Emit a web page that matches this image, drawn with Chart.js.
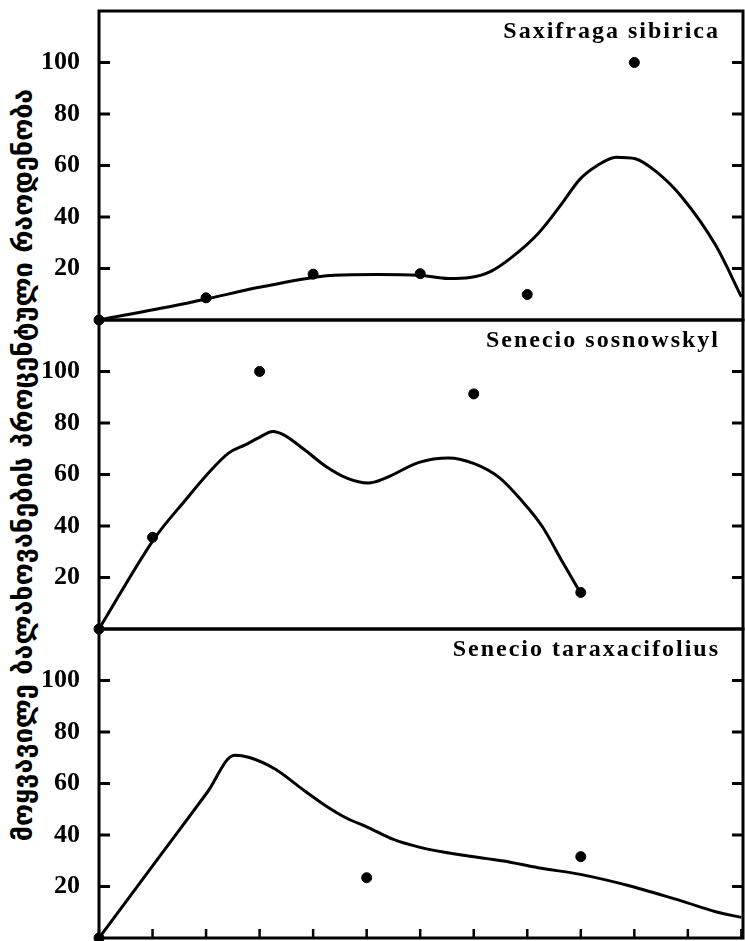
<!DOCTYPE html>
<html>
<head>
<meta charset="utf-8">
<script src="https://cdn.jsdelivr.net/npm/chart.js@4.4.1/dist/chart.umd.min.js"></script>
<style>
  html, body { margin: 0; padding: 0; width: 745px; height: 941px; overflow: hidden; background: #fff; }
  .panel { position: absolute; left: 0; }
  #yTitle {
    position: absolute; left: 22px; top: 465px;
    transform: translate(-50%, -50%) rotate(-90deg);
    white-space: nowrap;
    font-family: "DejaVu Sans", sans-serif; font-weight: bold; font-size: 27px;
    color: #000;
  }
</style>
</head>
<body>
<div id="yTitle">მოყვავილე ბალახოვანების პროცენტული რაოდენობა</div>
<canvas id="panel1" class="panel" width="750" height="330" style="top:1px"></canvas>
<canvas id="panel2" class="panel" width="750" height="330" style="top:310px"></canvas>
<canvas id="panel3" class="panel" width="750" height="330" style="top:619px"></canvas>
<script>
"use strict";
// axis ticks (x has no labels, only marks)
const xTickValues = [0, 1, 2, 3, 4, 5, 6, 7, 8, 9, 10, 11, 12];
const yTickValues = [20, 40, 60, 80, 100];
const speciesNames = ["Saxifraga sibirica", "Senecio sosnowskyl", "Senecio taraxacifolius"];

// Saxifraga sibirica
const saxPointX = [0, 2, 4, 6, 8, 10];
const saxPointY = [0, 8.6, 17.8, 18, 9.9, 100];
const saxCurveX = [0, 1.47, 2.1, 2.97, 4.1, 4.4, 5.19, 5.98, 6.53, 6.93, 7.33, 7.72, 8.2, 8.6, 8.99, 9.31, 9.66, 10.02, 10.42, 10.89, 11.52, 12];
const saxCurveY = [0, 5.8, 8.6, 12.6, 16.8, 17.4, 17.7, 17.4, 16.1, 16.5, 19, 24.5, 33.5, 43.9, 54.8, 60, 63.2, 62.6, 57.4, 47.7, 29, 9];

// Senecio sosnowskyl
const sosPointX = [0, 1, 3, 7, 9];
const sosPointY = [0, 35.6, 100, 91.3, 14.2];
const sosCurveX = [0, 1.05, 1.62, 2.02, 2.42, 2.73, 2.97, 3.25, 3.45, 3.84, 4.24, 4.63, 5.03, 5.35, 5.98, 6.53, 7.01, 7.49, 7.88, 8.28, 8.67, 8.99];
const sosCurveY = [0, 35.6, 50.2, 60, 68.3, 71.5, 74.1, 76.7, 75.4, 69.6, 63.1, 58.6, 56.7, 58.6, 64.7, 66.4, 64.2, 58.6, 50.2, 39.8, 25.6, 14.2];

// Senecio taraxacifolius
const tarPointX = [0, 5, 9];
const tarPointY = [0, 23.4, 31.6];
const tarCurveX = [0, 1.23, 2.02, 2.53, 2.81, 3.29, 3.76, 4.24, 4.63, 5.03, 5.5, 5.98, 6.77, 7.56, 8.2, 8.99, 9.94, 10.89, 11.52, 12];
const tarCurveY = [0, 34.4, 56.5, 71, 70.1, 65.6, 58.4, 51.3, 46.5, 42.9, 38.3, 35.3, 32.2, 29.9, 27.3, 24.7, 20.1, 14.3, 10.2, 8];

const zip = (xs, ys) => xs.map((x, i) => ({ x, y: ys[i] }));

// frame, inward tick marks and the species name
const framePlugin = {
    id: "frame",
    afterDraw(chart, args, opts) {
        const { ctx, chartArea: a, scales: { x, y } } = chart;
        const line = (x1, y1, x2, y2) => { ctx.beginPath(); ctx.moveTo(x1, y1); ctx.lineTo(x2, y2); ctx.stroke(); };
        ctx.save();
        ctx.strokeStyle = "#000";
        ctx.lineWidth = 3;
        ctx.strokeRect(a.left, a.top, a.right - a.left, a.bottom - a.top);
        yTickValues.forEach((v) => {
            const py = y.getPixelForValue(v);
            line(a.left, py, a.left + 11, py);
            line(a.right - 11, py, a.right, py);
        });
        if (opts.xTicks) {
            ctx.lineWidth = 2.5;
            xTickValues.forEach((v) => {
                const px = x.getPixelForValue(v);
                line(px, a.bottom, px, a.bottom - 9);
            });
        }
        ctx.fillStyle = "#000";
        ctx.font = "bold 24px 'Liberation Serif', serif";
        if ("letterSpacing" in ctx) ctx.letterSpacing = "2px";
        ctx.textAlign = "right";
        ctx.textBaseline = "alphabetic";
        ctx.fillText(opts.label, a.right - 23, a.top + 27);
        ctx.restore();
    },
};

function makePanel(id, name, pts, curve, xTicks) {
    new Chart(document.getElementById(id), {
        data: {
            datasets: [
                {
                    type: "line",
                    data: curve,
                    borderColor: "#000",
                    borderWidth: 3,
                    pointRadius: 0,
                    cubicInterpolationMode: "monotone",
                    fill: false,
                },
                {
                    type: "scatter",
                    data: pts,
                    backgroundColor: "#000",
                    borderColor: "#000",
                    pointRadius: 5,
                    pointHoverRadius: 5,
                    clip: false,
                },
            ],
        },
        options: {
            responsive: false,
            animation: false,
            events: [],
            layout: { padding: { top: 10, bottom: 11, left: 0, right: 7 } },
            plugins: {
                legend: { display: false },
                tooltip: { enabled: false },
                frame: { label: name, xTicks },
            },
            scales: {
                x: { type: "linear", min: 0, max: 12.03, display: false },
                y: {
                    min: 0,
                    max: 120,
                    afterFit: (s) => {
                        s.width = 99;
                        s.paddingTop = 0;
                        s.paddingBottom = 0;
                    },
                    afterBuildTicks: (s) => { s.ticks = yTickValues.map((v) => ({ value: v })); },
                    grid: { display: false },
                    border: { display: false },
                    ticks: {
                        padding: 11,
                        color: "#000",
                        font: { family: "'Liberation Serif', serif", weight: "bold", size: 26 },
                    },
                },
            },
        },
        plugins: [framePlugin],
    });
}

document.addEventListener("DOMContentLoaded", () => {
    makePanel("panel1", speciesNames[0], zip(saxPointX, saxPointY), zip(saxCurveX, saxCurveY), false);
    makePanel("panel2", speciesNames[1], zip(sosPointX, sosPointY), zip(sosCurveX, sosCurveY), false);
    makePanel("panel3", speciesNames[2], zip(tarPointX, tarPointY), zip(tarCurveX, tarCurveY), true);
});
</script>
</body>
</html>
